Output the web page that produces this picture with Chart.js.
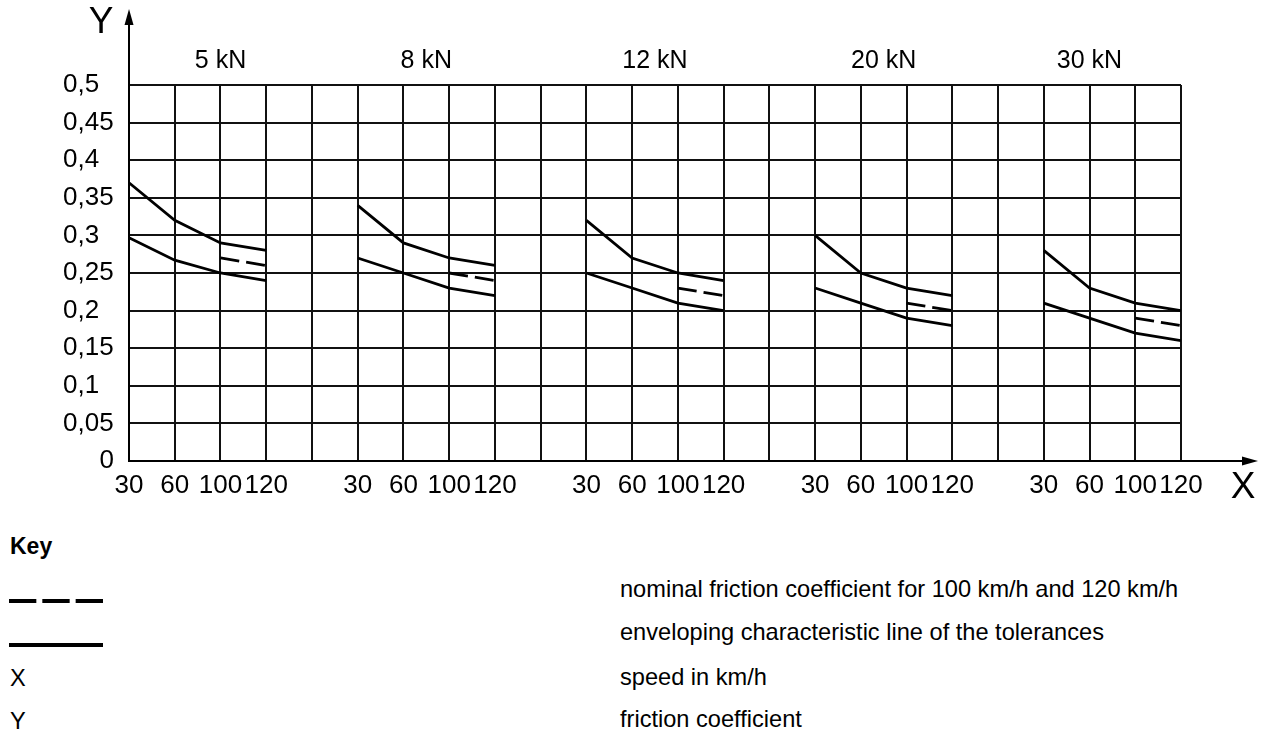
<!DOCTYPE html>
<html>
<head>
<meta charset="utf-8">
<title>Friction coefficient</title>
<script src="https://cdn.jsdelivr.net/npm/chart.js@4.4.0/dist/chart.umd.min.js"></script>
<style>
body { margin: 0; background: #fff; color: #000; font-family: "Liberation Sans", Arial, sans-serif; }
#wrap { position: relative; width: 1269px; height: 733px; overflow: hidden; }
#chartbox { position: absolute; left: 0; top: 0; width: 1269px; height: 520px; }
.key { position: absolute; font-size: 23.6px; line-height: 1; transform: translateY(-50%); white-space: nowrap; }
.key.head { font-weight: bold; font-size: 23px; }
svg.keyline { position: absolute; left: 0; }
</style>
</head>
<body>
<div id="wrap">
	<div id="chartbox"><canvas id="friction"></canvas></div>

	<div class="key head" style="left:10px; top:546px">Key</div>
	<svg class="keyline" style="top:591px" width="120" height="20">
		<line x1="9" y1="10" x2="103" y2="10" stroke="#000" stroke-width="3.8" stroke-dasharray="27.33 6"/>
	</svg>
	<svg class="keyline" style="top:635px" width="120" height="20">
		<line x1="9" y1="10" x2="103" y2="10" stroke="#000" stroke-width="3.8"/>
	</svg>
	<div class="key" style="left:10px; top:679px">X</div>
	<div class="key" style="left:10px; top:722px">Y</div>

	<div class="key" style="left:620px; top:590px">nominal friction coefficient for 100 km/h and 120 km/h</div>
	<div class="key" style="left:620px; top:633px">enveloping characteristic line of the tolerances</div>
	<div class="key" style="left:620px; top:678px">speed in km/h</div>
	<div class="key" style="left:620px; top:720px">friction coefficient</div>
</div>

<script>
// wheel loads, one block of columns each
var loads = ["5 kN", "8 kN", "12 kN", "20 kN", "30 kN"];
// speeds in km/h, one grid column each
var speeds = [30, 60, 100, 120];
var nominalSpeeds = [100, 120];

// upper and lower tolerance envelopes, one row per load
var upperLine = [
	[0.37, 0.32, 0.29, 0.28],
	[0.34, 0.29, 0.27, 0.26],
	[0.32, 0.27, 0.25, 0.24],
	[0.30, 0.25, 0.23, 0.22],
	[0.28, 0.23, 0.21, 0.20]
];
var lowerLine = [
	[0.297, 0.267, 0.25, 0.24],
	[0.27, 0.25, 0.23, 0.22],
	[0.25, 0.23, 0.21, 0.20],
	[0.23, 0.21, 0.19, 0.18],
	[0.21, 0.19, 0.17, 0.16]
];
// nominal friction coefficient at 100 and 120 km/h
var nominalLine = [
	[0.27, 0.26],
	[0.25, 0.24],
	[0.23, 0.22],
	[0.21, 0.20],
	[0.19, 0.18]
];

var groupWidth = 5;          // 4 speed columns + 1 empty column
var titleOffset = [2, 1.5, 1.5, 1.5, 1];
var FONT = '"Liberation Sans", Arial, sans-serif';

function col(g, speed) {
	return g * groupWidth + speeds.indexOf(speed);
}

function fmtY(v) {
	return parseFloat(v.toFixed(2)).toString().replace(".", ",");
}

function CreateDatasets() {
	var sets = [];
	for (var g = 0; g < loads.length; g++) {
		var up = [], low = [], nom = [];
		for (var i = 0; i < speeds.length; i++) {
			up.push({ x: col(g, speeds[i]), y: upperLine[g][i] });
			low.push({ x: col(g, speeds[i]), y: lowerLine[g][i] });
		}
		for (var j = 0; j < nominalSpeeds.length; j++) {
			nom.push({ x: col(g, nominalSpeeds[j]), y: nominalLine[g][j] });
		}
		sets.push({ label: loads[g] + " upper", data: up, borderDash: [] });
		sets.push({ label: loads[g] + " lower", data: low, borderDash: [] });
		sets.push({ label: loads[g] + " nominal", data: nom, borderDash: [19, 7] });
	}
	return sets;
}

// tick labels, load titles and the axis arrows
var axisDecor = {
	id: "axisDecor",
	afterDraw: function (chart) {
		var ctx = chart.ctx, area = chart.chartArea;
		var x = chart.scales.x, y = chart.scales.y;
		ctx.save();
		ctx.fillStyle = "#000";
		ctx.strokeStyle = "#000";
		ctx.font = "26px " + FONT;
		ctx.textBaseline = "middle";

		y.ticks.forEach(function (t) {
			var py = y.getPixelForValue(t.value);
			if (t.value === 0) {
				ctx.textAlign = "right";
				ctx.fillText(fmtY(t.value), area.left - 15, py);
			} else {
				ctx.textAlign = "left";
				ctx.fillText(fmtY(t.value), area.left - 66, py);
			}
		});

		ctx.textAlign = "center";
		for (var g = 0; g < loads.length; g++) {
			for (var i = 0; i < speeds.length; i++) {
				ctx.fillText(String(speeds[i]), x.getPixelForValue(col(g, speeds[i])), area.bottom + 25);
			}
		}
		ctx.font = "25px " + FONT;
		for (var k = 0; k < loads.length; k++) {
			ctx.fillText(loads[k], x.getPixelForValue(k * groupWidth + titleOffset[k]), area.top - 24);
		}

		// arrows
		ctx.lineWidth = 2;
		ctx.beginPath();
		ctx.moveTo(area.left, area.top);
		ctx.lineTo(area.left, 20);
		ctx.moveTo(area.right, area.bottom);
		ctx.lineTo(1246, area.bottom);
		ctx.stroke();
		ctx.beginPath();
		ctx.moveTo(area.left, 9);
		ctx.lineTo(area.left - 4.5, 25);
		ctx.lineTo(area.left + 4.5, 25);
		ctx.closePath();
		ctx.fill();
		ctx.beginPath();
		ctx.moveTo(1258, area.bottom);
		ctx.lineTo(1242, area.bottom - 4.5);
		ctx.lineTo(1242, area.bottom + 4.5);
		ctx.closePath();
		ctx.fill();

		ctx.font = "37px " + FONT;
		ctx.fillText("Y", 101, 23);
		ctx.fillText("X", 1243, 488);
		ctx.restore();
	}
};

function CreateChart() {
	var config = {
		type: "line",
		data: { datasets: CreateDatasets() },
		options: {
			responsive: true,
			maintainAspectRatio: false,
			animation: false,
			layout: { padding: { left: 129, right: 88, top: 85, bottom: 59 } },
			elements: {
				line: { borderColor: "#000", borderWidth: 2.8, tension: 0, fill: false, borderCapStyle: "butt" },
				point: { radius: 0, hoverRadius: 0 }
			},
			plugins: { legend: { display: false }, tooltip: { enabled: false } },
			scales: {
				x: {
					type: "linear",
					min: 0,
					max: loads.length * groupWidth - 2,
					ticks: { display: false, stepSize: 1 },
					grid: { color: "#111", lineWidth: 2, drawTicks: false },
					border: { display: true, color: "#000", width: 2 }
				},
				y: {
					min: 0,
					max: 0.5,
					ticks: { display: false, stepSize: 0.05 },
					grid: { color: "#111", lineWidth: 2, drawTicks: false },
					border: { display: true, color: "#000", width: 2 }
				}
			}
		},
		plugins: [axisDecor]
	};
	var chartctx = document.getElementById("friction").getContext("2d");
	window.frictionChart = new Chart(chartctx, config);
}

CreateChart();
</script>
</body>
</html>
